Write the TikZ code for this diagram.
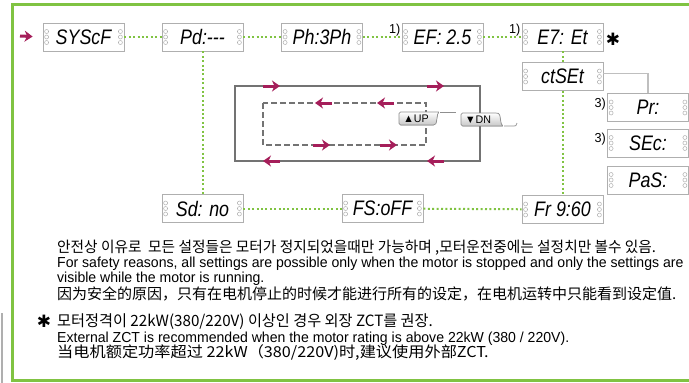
\documentclass[tikz,border=0pt]{standalone}
\usepackage{fontspec}
\setmainfont{Liberation Sans}[FakeStretch=0.97]
\newfontfamily\krfont{Noto Sans CJK KR}[FakeStretch=0.98]
\newfontfamily\scfont{Noto Sans CJK SC}
\newfontfamily\scwide{Noto Sans CJK SC}[FakeStretch=1.08]
\newfontfamily\lcdfont{Liberation Sans}[FakeStretch=0.85]
\newfontfamily\symfont{DejaVu Sans}
\usetikzlibrary{calc}
\usetikzlibrary{arrows.meta}
\definecolor{lsgreen}{RGB}{128,195,66}
\definecolor{lsmag}{RGB}{165,30,90}
\definecolor{lsgrey}{RGB}{115,115,115}
\definecolor{lsbox}{RGB}{175,175,175}
\tikzset{
 lcd/.style={draw=lsbox, fill=white, line width=0.8pt, minimum width=81pt, minimum height=28pt, inner sep=0pt, font=\lcdfont\itshape\fontsize{21}{21}\selectfont},
 link/.style={lsgreen, line width=2pt, dash pattern=on 2pt off 2.4pt},
 flow/.style={lsmag, line width=3pt, -{Stealth[length=8pt,width=11pt,inset=2.5pt]}},
 keycap/.style={draw=lsgrey!80, line width=0.7pt, top color=white, bottom color=black!22},
 foot/.style={anchor=base east, inner sep=0pt, font=\fontsize{13}{13}\selectfont},
 star/.style={font=\symfont\fontsize{17}{17}\selectfont, inner sep=0pt},
 note/.style={anchor=base west, inner sep=0pt, font=\fontsize{14.5}{14.5}\selectfont}
}
% display with the three little dots on each side
\newcommand{\lcdbox}[3]{
 \node[lcd] (#1) at (#2) {#3};
 \foreach \s in {-5.5,0,5.5} {
  \draw[lsbox,line width=0.5pt] ($(#1.west)+(4,\s)$) circle (2pt);
  \draw[lsbox,line width=0.5pt] ($(#1.east)+(-4,\s)$) circle (2pt);
 }
}

\begin{document}
\begin{tikzpicture}[x=1pt,y=-1pt]
\useasboundingbox (0,0) rectangle (689,383);
\draw[lsgreen, line width=2.5pt] (695,4.5) -- (12.5,4.5) -- (12.5,380.5) -- (695,380.5);
\draw[lsbox, line width=1.2pt] (2,313) -- (2,383);

\lcdbox{syscf}{83.5,37}{SYScF}
\lcdbox{pdset}{202.5,37}{Pd:---}
\lcdbox{ph3ph}{322,37}{Ph:3Ph}
\lcdbox{efset}{442.5,37}{EF: 2.5}
\lcdbox{e7set}{562.5,37}{E7: Et}
\lcdbox{ctset}{562.5,76.5}{ctSEt}
\lcdbox{prset}{648,107.5}{Pr:\hspace{22pt}}
\lcdbox{secset}{648,143}{SEc:\hspace{16pt}}
\lcdbox{passet}{648,180}{PaS:\hspace{16pt}}
\lcdbox{sdno}{202.5,208.5}{Sd: no}
\lcdbox{fsoff}{382.5,208.5}{FS:oFF}
\lcdbox{fr960}{562.5,209.5}{Fr 9:60}

\node[foot] at ($(efset.west)+(-1,-4)$) {1)};
\node[foot] at ($(e7set.west)+(-1,-4)$) {1)};
\node[foot] at ($(prset.west)+(-1,0)$) {3)};
\node[foot] at ($(secset.west)+(-1,-1)$) {3)};
\node[star] (star) at (613,39) {✱};

\coordinate (start) at (20,36);
\draw[flow] (start) -- (syscf.west) [shorten >=10pt];
\draw[link] (syscf) -- (pdset);
\draw[link] (pdset) -- (ph3ph);
\draw[link] (ph3ph) -- (efset);
\draw[link] (efset) -- (e7set);
\draw[link] (e7set) -- (ctset);
\draw[link] (ctset) -- (fr960);
\draw[link] (pdset) -- (sdno);
\draw[link] (sdno) -- (fsoff);
\draw[link] (fsoff) -- (fr960);
\draw[lsbox!80, line width=1.6pt] ($(ctset.east)+(0,-3)$) -| (prset.north);

% up / down loop
\draw[lsgrey, line width=2.8pt] (235,86) rectangle (480,161);
\draw[lsgrey, line width=2.4pt, dash pattern=on 6pt off 3pt] (263,103) rectangle (426,145);
\foreach \x in {263,427} {
 \draw[flow] (\x,86) -- ++(17,0);
 \draw[flow] (\x+17,161) -- ++(-17,0);
}
\foreach \x in {315,377} \draw[flow] (\x+17,103) -- ++(-17,0);
\foreach \x in {313,380} \draw[flow] (\x,145) -- ++(17,0);

\filldraw[keycap, rounded corners=1.5pt] (399,125) -- (399,112) -- (440,112) .. controls (437,113) and (437,122) .. (435,125) -- cycle;
\draw[lsgrey!80, line width=0.7pt] (440,112) -- (456,112);
\node[font=\fontsize{11}{11}\selectfont] (up) at (416,118.5) {▲UP};
\filldraw[keycap, rounded corners=1.5pt] (461,126) -- (461,113) -- (497,113) .. controls (501,114) and (500,125) .. (504,126) -- cycle;
\draw[lsgrey!80, line width=0.7pt] (504,126) -- (514,126) .. controls (516,126) .. (517,123);
\node[font=\fontsize{11}{11}\selectfont] (dn) at (478,119.5) {▼DN};

% notes
\node[note] (kr1) at (57,252) {\krfont\fontsize{15}{15}\selectfont 안전상 이유로 \ 모든 설정들은 모터가 정지되었을때만 가능하며 ,모터운전중에는 설정치만 볼수 있음.};
\node[note] (en1) at (57,267) {For safety reasons, all settings are possible only when the motor is stopped and only the settings are};
\node[note] (en2) at (57,282) {visible while the motor is running.};
\node[note] (cn1) at (57,299) {\scfont\fontsize{15}{15}\selectfont 因为安全的原因，只有在电机停止的时候才能进行所有的设定，在电机运转中只能看到设定值.};
\node[star] (star2) at (44,321) {✱};
\node[note] (kr2) at (57,326) {\krfont\fontsize{15.5}{15.5}\selectfont 모터정격이 22kW(380/220V) 이상인 경우 외장 ZCT를 권장.};
\node[note] (en3) at (57,342) {External ZCT is recommended when the motor rating is above 22kW (380 / 220V).};
\node[note] (cn2) at (57,357) {\scwide\fontsize{15}{15}\selectfont 当电机额定功率超过 22kW（380/220V)时,建议使用外部ZCT.};
\end{tikzpicture}
\end{document}
